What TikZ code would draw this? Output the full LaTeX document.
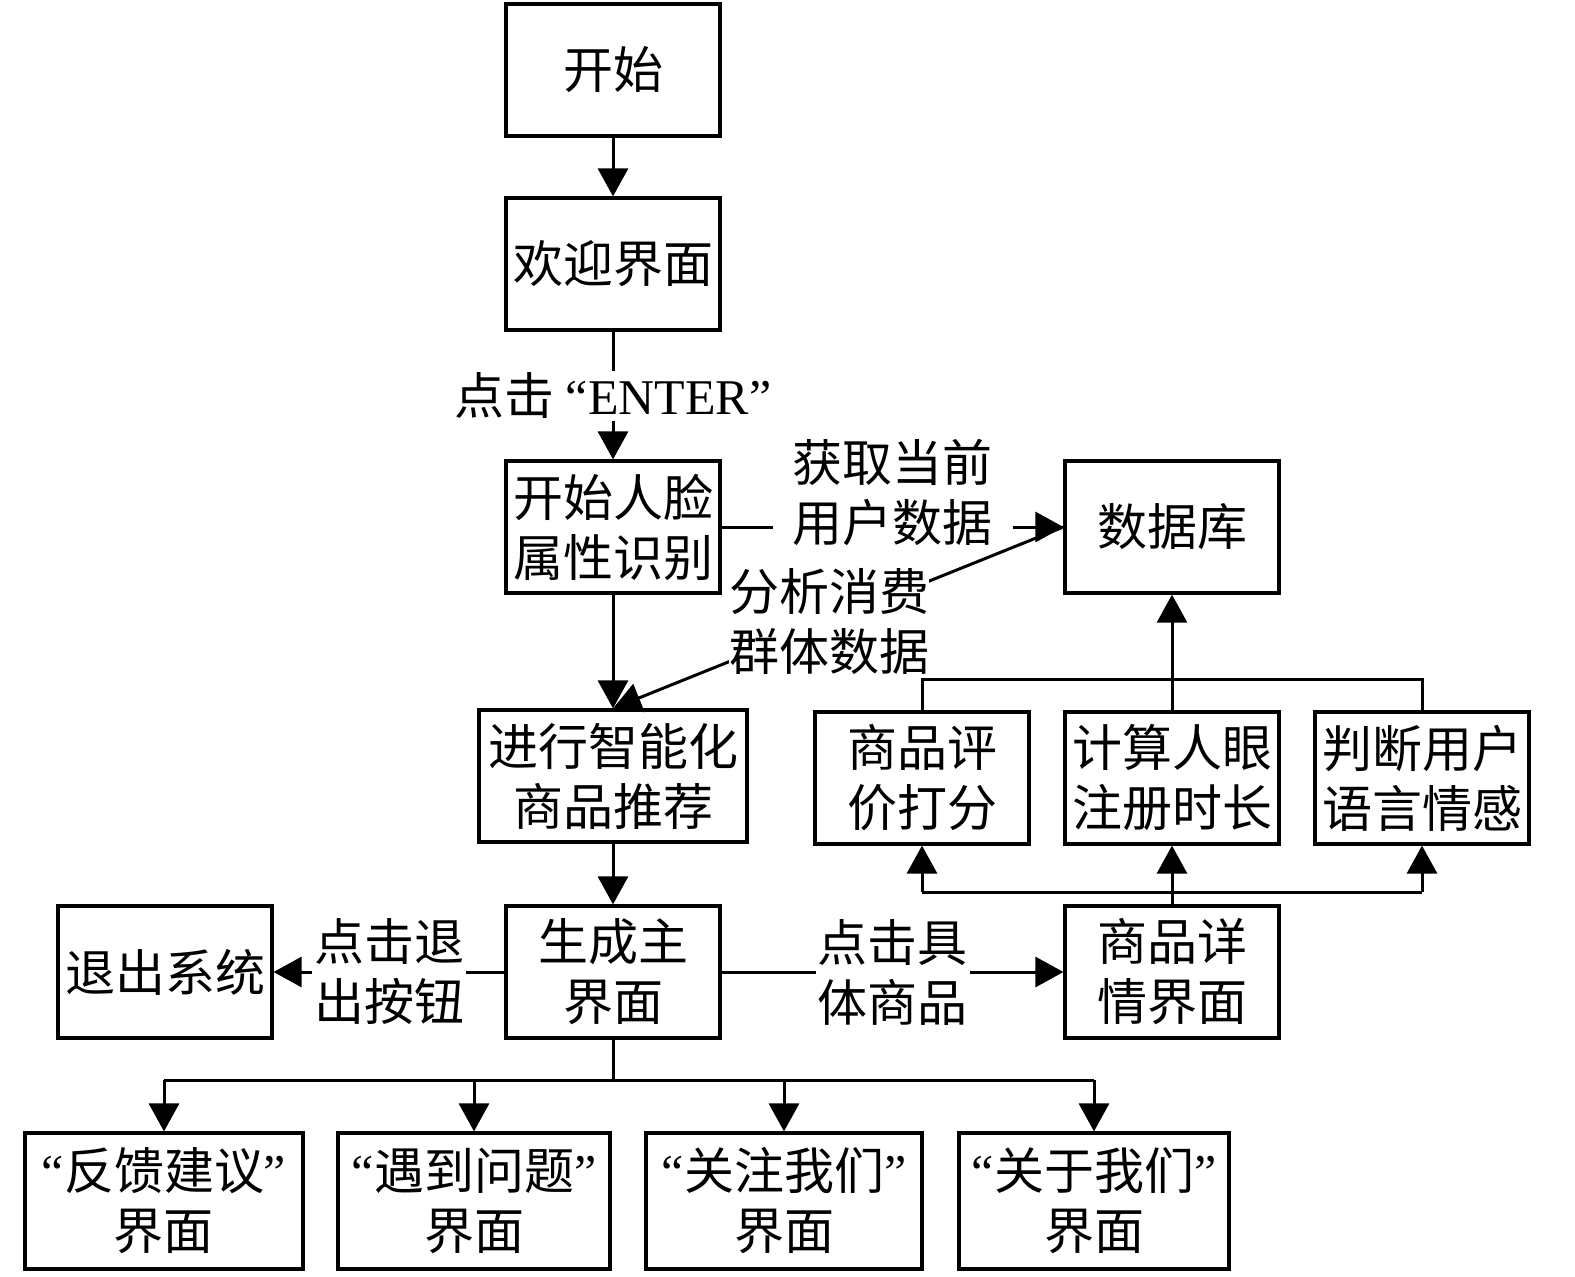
\documentclass[tikz,border=0pt]{standalone}
\usepackage{fontspec}
\setmainfont{Liberation Serif}
\newfontfamily\cjk{Noto Sans CJK SC}
\usetikzlibrary{arrows.meta}
\newcommand\qo{{\rmfamily “}}
\newcommand\qc{{\rmfamily ”}}

\begin{document}
\begin{tikzpicture}[
  x=0.5pt, y=-0.5pt,
  line width=1.5pt,
  >={Triangle[length=14pt,width=15pt]},
  box/.style={draw, line width=1.6pt, align=center, inner sep=1pt,
    minimum width=107pt, minimum height=66pt,
    font=\cjk\fontsize{25}{30}\selectfont},
  lbl/.style={fill=white, align=center, inner sep=1pt,
    font=\cjk\fontsize{25}{30}\selectfont},
]
\useasboundingbox (0,0) rectangle (1575,1276);
% 主流程
\node[box] (start)   at (613,70)  {开始};
\node[box] (welcome) at (613,264) {欢迎界面};
\node[box] (face)    at (613,527) {开始人脸\\属性识别};
\node[box] (db)      at (1172,527) {数据库};
\node[box, minimum width=134pt] (rec) at (613,776) {进行智能化\\商品推荐};
\node[box] (score)   at (922,778)  {商品评\\价打分};
\node[box] (eye)     at (1172,778) {计算人眼\\注册时长};
\node[box] (emo)     at (1422,778) {判断用户\\语言情感};
\node[box] (main)    at (613,972)  {生成主\\界面};
\node[box] (exit)    at (165,972)  {退出系统};
\node[box] (detail)  at (1172,972) {商品详\\情界面};
% 底部界面
\node[box, minimum width=139pt, minimum height=68pt] (fb) at (164,1201)  {\qo 反馈建议\qc\\界面};
\node[box, minimum width=136pt, minimum height=68pt] (qa) at (474,1201)  {\qo 遇到问题\qc\\界面};
\node[box, minimum width=138pt, minimum height=68pt] (fo) at (784,1201)  {\qo 关注我们\qc\\界面};
\node[box, minimum width=135pt, minimum height=68pt] (ab) at (1094,1201) {\qo 关于我们\qc\\界面};

\draw[->] (start) -- (welcome);
\draw[->] (welcome) -- node[lbl] {点击 {\rmfamily “ENTER”}} (face);
\draw[->] (face) -- (rec);
\draw[->] (face) -- node[lbl, inner xsep=10pt, yshift=17pt] {获取当前\\用户数据} (db);
\draw[->] (db.west) -- node[lbl, inner sep=0pt, pos=0.52] {分析消费\\群体数据} (rec.north);
\draw[->] (rec) -- (main);
\draw[->] (main) -- node[lbl] {点击退\\出按钮} (exit);
\draw[->] (main) -- node[lbl] {点击具\\体商品} (detail);

% 详情 -> 三个指标 -> 数据库
\coordinate (dbus) at (1172,892);
\coordinate (ubus) at (1172,679);
\draw (detail.north) -- (dbus);
\draw (score.south |- dbus) -- (emo.south |- dbus);
\foreach \n in {score,eye,emo}
  \draw[->] (\n.south |- dbus) -- (\n.south);
\draw (score.north) |- (ubus) -| (emo.north);
\draw[->] (eye.north) -- (db.south);

% 主界面 -> 底部
\coordinate (bbus) at (613,1080);
\draw (main.south) -- (bbus);
\draw (fb.north |- bbus) -- (ab.north |- bbus);
\foreach \n in {fb,qa,fo,ab}
  \draw[->] (\n.north |- bbus) -- (\n.north);
\end{tikzpicture}
\end{document}
